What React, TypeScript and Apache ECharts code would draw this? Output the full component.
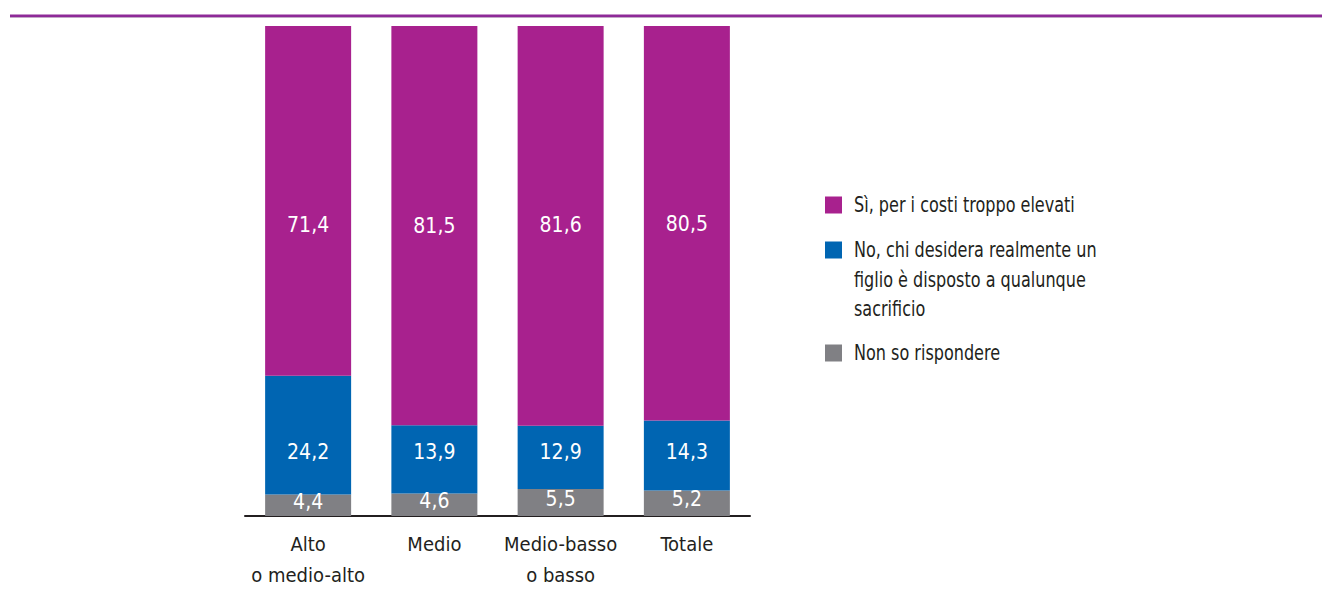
import React, { useEffect, useRef } from "react";
import * as echarts from "echarts";

const categories = ["Alto\no medio-alto", "Medio", "Medio-basso\no basso", "Totale"];
const seriesNames = [
  "Sì, per i costi troppo elevati",
  "No, chi desidera realmente un\nfiglio è disposto a qualunque\nsacrificio",
  "Non so rispondere",
];
const siValues = [71.4, 81.5, 81.6, 80.5];
const noValues = [24.2, 13.9, 12.9, 14.3];
const nonSoValues = [4.4, 4.6, 5.5, 5.2];
const colors = ["#a8218e", "#0065b2", "#808084"];

const FONT = "'Liberation Sans Narrow', 'DejaVu Sans Condensed', 'Roboto Condensed', sans-serif";

const fmt = (v: number) => v.toFixed(1).replace(".", ",");

export default function App() {
  const ref = useRef<HTMLDivElement>(null);
  useEffect(() => {
    document.body.style.margin = "0";
    const chart = echarts.init(ref.current!, undefined, { renderer: "svg" });
    const values = [nonSoValues, noValues, siValues];
    const order = [2, 1, 0];
    // label offsets to keep labels aligned across bars (as in the reference)
    const offsets: Record<number, number[][]> = {
      0: [[0, 24], [0, 0], [0, -1], [0, 1]],
      1: [[0, 17], [0, -7], [0, -5], [0, -3]],
      2: [[0, -3], [0, -4], [0, -4], [0, -4]],
    };
    const series = order.map((si, k) => ({
      name: seriesNames[si],
      type: "bar",
      stack: "total",
      barWidth: 86,
      itemStyle: { color: colors[si] },
      label: {
        show: true,
        position: "inside",
        color: "#ffffff",
        fontFamily: FONT,
        fontSize: 21,
        formatter: (p: any) => fmt(p.value),
      },
      data: values[k].map((v, i) => ({ value: v, label: { offset: offsets[si][i] } })),
    }));

    const legendTops = [205, 250, 353];
    const legendGraphics: any[] = [];
    seriesNames.forEach((n, i) => {
      legendGraphics.push({
        type: "rect",
        shape: { x: 825, y: legendTops[i] - 8.5, width: 17, height: 17 },
        style: { fill: colors[i] },
      });
      legendGraphics.push({
        type: "text",
        x: 854,
        y: legendTops[i] - 14.75,
        scaleX: 0.85,
        style: {
          text: n,
          fill: "#231f20",
          fontFamily: FONT,
          fontSize: 21,
          lineHeight: 29.5,
          verticalAlign: "top",
          align: "left",
        },
      });
    });

    chart.setOption({
      animation: false,
      grid: { left: 245, right: 572, top: 26, bottom: 81 },
      xAxis: {
        type: "category",
        data: categories,
        axisLine: { lineStyle: { color: "#231f20", width: 2 } },
        axisTick: { show: false },
        axisLabel: {
          color: "#231f20",
          fontFamily: FONT,
          fontSize: 20,
          lineHeight: 31,
          margin: 12,
          interval: 0,
        },
      },
      yAxis: {
        type: "value",
        min: 0,
        max: 100,
        show: false,
        splitLine: { show: false },
      },
      series,
      graphic: [
        { type: "rect", shape: { x: 10, y: 14.5, width: 1312, height: 2.5 }, style: { fill: "#8e2a98" } },
        { type: "rect", shape: { x: 10, y: 17, width: 1312, height: 1 }, style: { fill: "#c2a9c6" } },
        ...legendGraphics,
      ],
    });
    return () => chart.dispose();
  }, []);
  return <div ref={ref} style={{ width: 1322, height: 597, position: "absolute", left: 0, top: 0 }} />;
}
